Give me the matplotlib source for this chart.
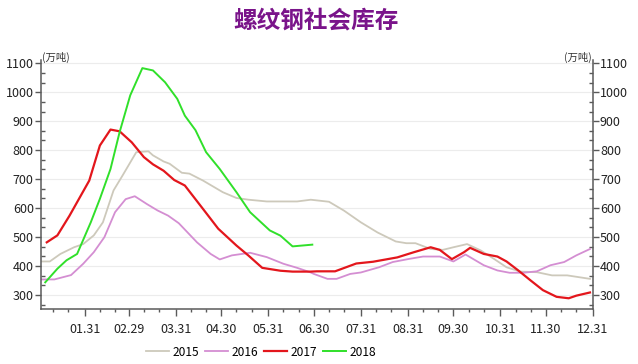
import matplotlib
matplotlib.use('Agg')
import matplotlib.pyplot as plt
from matplotlib.ticker import AutoMinorLocator, FixedLocator

plt.rcParams['font.family'] = ['Noto Sans CJK SC', 'DejaVu Sans']

# day of year (leap-year calendar) and inventory, 10k tonnes
days_2015 = [2, 8, 15, 24, 30, 37, 43, 50, 56, 65, 73, 76, 83, 87, 95, 100, 109, 122, 131, 139,
             151, 162, 171, 180, 192, 202, 213, 224, 236, 243, 249, 259, 267, 274, 283, 292,
             301, 309, 318, 329, 339, 349, 364]
vals_2015 = [416, 416, 442, 465, 476, 506, 551, 661, 713, 793, 796, 782, 761, 753, 722, 719, 695,
             655, 635, 629, 623, 623, 623, 629, 622, 591, 551, 516, 485, 479, 479, 459, 456, 465,
             476, 454, 424, 396, 381, 379, 368, 368, 356]

days_2016 = [2, 11, 22, 30, 37, 44, 51, 58, 64, 72, 79, 86, 93, 105, 114, 120, 128, 140, 151, 162,
             171, 180, 182, 191, 197, 206, 213, 225, 234, 245, 254, 265, 274, 282, 294, 303, 311,
             320, 329, 338, 347, 355, 364]
vals_2016 = [354, 354, 369, 408, 448, 500, 586, 631, 641, 614, 592, 574, 548, 482, 442, 423, 437,
             446, 431, 408, 394, 378, 373, 356, 356, 373, 378, 396, 414, 425, 433, 433, 416, 440,
             403, 385, 377, 377, 382, 403, 414, 437, 459]

days_2017 = [6, 13, 21, 34, 41, 48, 54, 62, 70, 76, 83, 90, 97, 109, 119, 131, 139, 148, 160, 168,
             180, 184, 196, 210, 221, 237, 248, 259, 265, 273, 281, 285, 294, 303, 309, 317, 325,
             333, 342, 350, 355, 364]
vals_2017 = [482, 506, 574, 695, 816, 871, 865, 827, 776, 751, 729, 697, 678, 597, 529, 471, 436,
             394, 384, 381, 381, 382, 382, 409, 415, 430, 448, 465, 456, 424, 448, 463, 442, 433,
             416, 384, 350, 317, 294, 289, 298, 309]

days_2018 = [5, 13, 19, 26, 35, 41, 48, 54, 61, 69, 76, 84, 92, 97, 104, 111, 120, 131, 140, 153,
             160, 168, 181]
vals_2018 = [344, 391, 420, 442, 551, 632, 735, 862, 989, 1083, 1075, 1034, 977, 919, 869, 793,
             735, 655, 586, 523, 505, 468, 474]

month_lengths = [31, 29, 31, 30, 31, 30, 31, 31, 30, 31, 30, 31]
month_labels = ['01.31', '02.29', '03.31', '04.30', '05.31', '06.30',
                '07.31', '08.31', '09.30', '10.31', '11.30', '12.31']

month_ends = []
minor_days = []
total = 0
for n in month_lengths:
    minor_days += [total + 10, total + 20]
    total += n
    month_ends.append(total)

fig = plt.figure(figsize=(6.38, 3.64), dpi=100)
ax = fig.add_axes([40.7 / 638, 1 - 309 / 364, (593 - 40.7) / 638, 249 / 364])

ax.plot(days_2015, vals_2015, color='#cdc9bb', lw=1.3, label='2015')
ax.plot(days_2016, vals_2016, color='#d48ed2', lw=1.3, label='2016')
ax.plot(days_2017, vals_2017, color='#e3161c', lw=1.6, label='2017')
ax.plot(days_2018, vals_2018, color='#30e02a', lw=1.4, label='2018')

ax.set_xlim(2, 366)
ax.set_ylim(252, 1111)

ax.xaxis.set_major_locator(FixedLocator(month_ends))
ax.xaxis.set_minor_locator(FixedLocator(minor_days))
ax.set_xticklabels(month_labels)
ax.set_yticks(range(300, 1101, 100))
ax.yaxis.set_minor_locator(AutoMinorLocator(3))
ax.grid(axis='y', color='#ececec', lw=0.8)
ax.set_axisbelow(True)

spine_col = '#5a5a5a'
for s in ['left', 'right', 'bottom']:
    ax.spines[s].set_color(spine_col)
    ax.spines[s].set_linewidth(1.1)
ax.spines['top'].set_visible(False)

ax.tick_params(axis='y', which='major', direction='out', length=4, width=1, color=spine_col,
               labelsize=9, labelcolor='#222222', left=True, right=True, labelright=True, pad=1)
ax.tick_params(axis='y', which='minor', direction='in', length=3, width=1, color=spine_col,
               left=True, right=True)
ax.tick_params(axis='x', which='major', direction='out', length=5, width=1, color=spine_col,
               labelsize=9, labelcolor='#222222', pad=5)
ax.tick_params(axis='x', which='minor', direction='out', length=2.5, width=1, color=spine_col)

fig.text(42 / 638, 1 - 57 / 364, '(万吨)', fontsize=7.5, color='#333333', ha='left', va='center')
fig.text(592 / 638, 1 - 57 / 364, '(万吨)', fontsize=7.5, color='#333333', ha='right', va='center')

fig.text(316 / 638, 1 - 21 / 364, '螺纹钢社会库存', fontsize=17, fontweight='bold',
         color='#7a148a', ha='center', va='center')

fig.legend(loc='center', bbox_to_anchor=(261 / 638, 1 - 352 / 364), ncol=4, frameon=False,
           fontsize=8.6, handlelength=1.9, handletextpad=0.3, columnspacing=0.5)

fig.savefig('out.png', dpi=100, facecolor='white')
